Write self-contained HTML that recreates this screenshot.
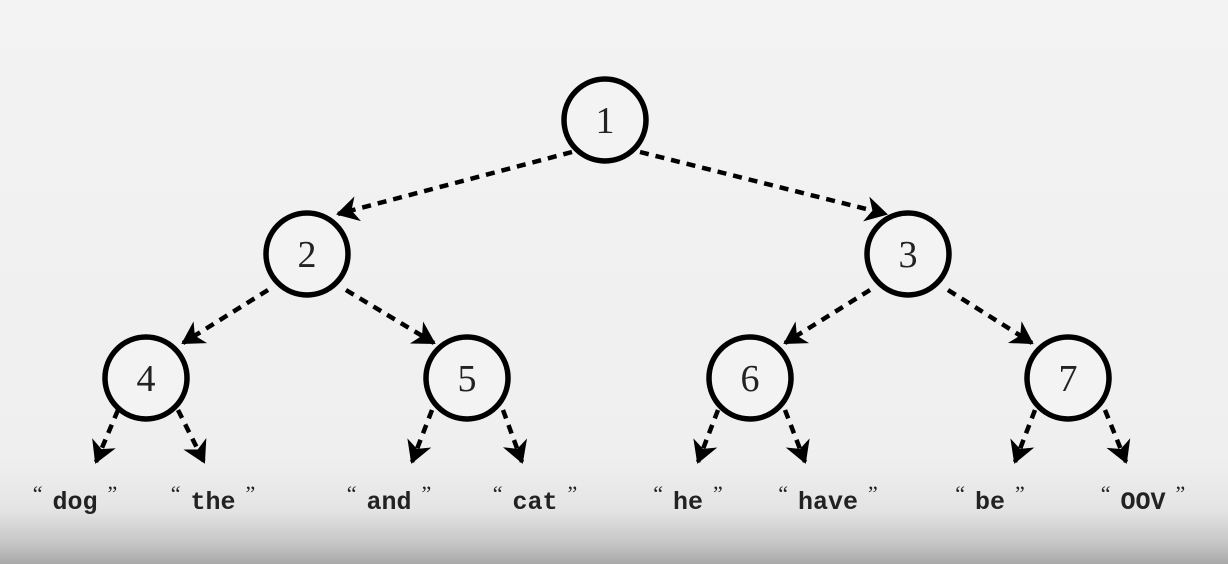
<!DOCTYPE html>
<html><head><meta charset="utf-8"><style>
html,body{margin:0;padding:0;}
body{width:1228px;height:564px;overflow:hidden;background:linear-gradient(to bottom,#f3f3f3 0px,#efefef 460px,#e4e4e4 510px,#c4c4c4 545px,#a8a8a8 564px);}
svg{position:absolute;left:0;top:0;}
.q{font-family:"Liberation Serif",serif;font-weight:normal;font-size:22px;}
</style></head><body>
<svg width="1228" height="564" viewBox="0 0 1228 564">
<defs>
<marker id="a" markerWidth="8" markerHeight="8" refX="6" refY="4" orient="auto" markerUnits="userSpaceOnUse" viewBox="0 0 8 8" style="overflow:visible">
<path d="M8,4 L-6,-4 L-2,4 L-6,12 Z" fill="#000" transform="scale(1.6) translate(-3,-1.5)"/>
</marker>
</defs>
<g stroke="#000" stroke-width="4.5" stroke-dasharray="9,7" fill="none" marker-end="url(#a)">
<line x1="572" y1="152" x2="338" y2="214"/>
<line x1="640" y1="152" x2="886" y2="214"/>
<line x1="268" y1="290" x2="183" y2="343"/>
<line x1="346" y1="290" x2="434" y2="343"/>
<line x1="870" y1="290" x2="785" y2="343"/>
<line x1="948" y1="290" x2="1032" y2="343"/>
<line x1="118" y1="410" x2="96" y2="462"/>
<line x1="178" y1="410" x2="204" y2="462"/>
<line x1="432" y1="410" x2="412" y2="462"/>
<line x1="503" y1="410" x2="522" y2="462"/>
<line x1="718" y1="410" x2="698" y2="462"/>
<line x1="785" y1="410" x2="805" y2="462"/>
<line x1="1035" y1="410" x2="1015" y2="462"/>
<line x1="1105" y1="410" x2="1126" y2="462"/>
</g>
<g stroke="#000" stroke-width="5.5" fill="#f3f3f3">
<circle cx="605" cy="120" r="41"/>
<circle cx="307" cy="254" r="41"/>
<circle cx="908" cy="254" r="41"/>
<circle cx="146" cy="378" r="41"/>
<circle cx="467" cy="378" r="41"/>
<circle cx="750" cy="378" r="41"/>
<circle cx="1068" cy="378" r="41"/>
</g>
<g font-family="Liberation Serif, serif" font-size="38" fill="#222" text-anchor="middle">
<text x="605" y="133">1</text>
<text x="307" y="267">2</text>
<text x="908" y="267">3</text>
<text x="146" y="391">4</text>
<text x="467" y="391">5</text>
<text x="750" y="391">6</text>
<text x="1068" y="391">7</text>
</g>
<g font-family="Liberation Mono, monospace" font-size="25" font-weight="bold" fill="#222" text-anchor="middle">
<text x="75" y="509"><tspan class="q" dy="-8">“</tspan><tspan dx="10" dy="8">dog</tspan><tspan class="q" dx="10" dy="-8">”</tspan></text>
<text x="213" y="509"><tspan class="q" dy="-8">“</tspan><tspan dx="10" dy="8">the</tspan><tspan class="q" dx="10" dy="-8">”</tspan></text>
<text x="389" y="509"><tspan class="q" dy="-8">“</tspan><tspan dx="10" dy="8">and</tspan><tspan class="q" dx="10" dy="-8">”</tspan></text>
<text x="535" y="509"><tspan class="q" dy="-8">“</tspan><tspan dx="10" dy="8">cat</tspan><tspan class="q" dx="10" dy="-8">”</tspan></text>
<text x="688" y="509"><tspan class="q" dy="-8">“</tspan><tspan dx="10" dy="8">he</tspan><tspan class="q" dx="10" dy="-8">”</tspan></text>
<text x="828" y="509"><tspan class="q" dy="-8">“</tspan><tspan dx="10" dy="8">have</tspan><tspan class="q" dx="10" dy="-8">”</tspan></text>
<text x="990" y="509"><tspan class="q" dy="-8">“</tspan><tspan dx="10" dy="8">be</tspan><tspan class="q" dx="10" dy="-8">”</tspan></text>
<text x="1143" y="509"><tspan class="q" dy="-8">“</tspan><tspan dx="10" dy="8">OOV</tspan><tspan class="q" dx="10" dy="-8">”</tspan></text>
</g>
</svg>
</body></html>
